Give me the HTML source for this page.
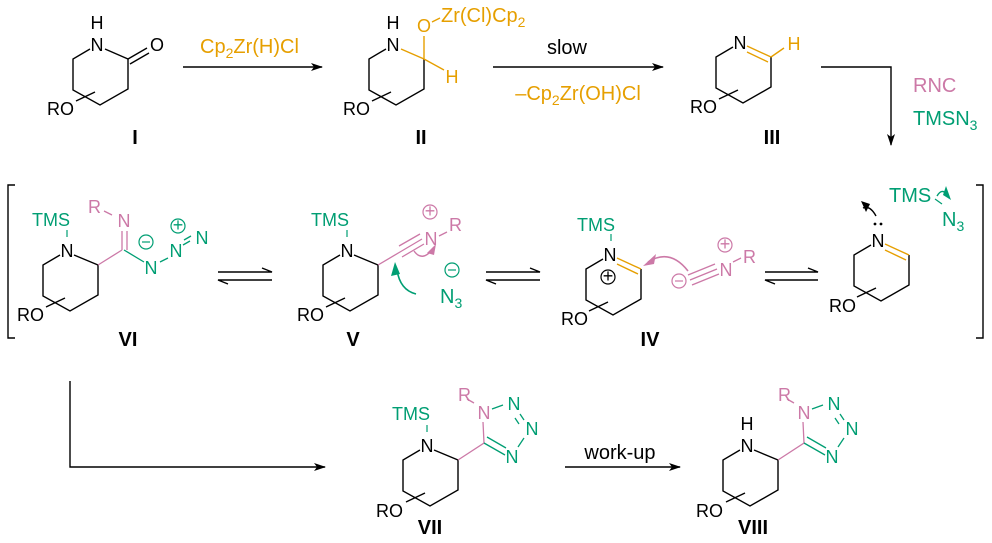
<!DOCTYPE html>
<html><head><meta charset="utf-8"><style>
html,body{margin:0;padding:0;background:#fff}
svg{display:block}
text{font-family:"Liberation Sans",sans-serif;font-size:18px}
.r{font-size:20px}
.b{font-weight:bold;font-size:20px}
.o{fill:#E69F00}.p{fill:#CC79A7}.g{fill:#009E73}
</style></head><body>
<svg width="992" height="543" viewBox="0 0 992 543" xmlns="http://www.w3.org/2000/svg">
<defs>
<g id="ring" fill="none" stroke="#000" stroke-width="1.4">
<path d="M-7,5 L-24,15 L-24,46 L3,61 L31,45 L31,15"/>
<path d="M-21,57 L-2,48"/>
</g>
<marker id="ah" markerWidth="12" markerHeight="8" refX="11" refY="4" orient="auto" markerUnits="userSpaceOnUse"><path d="M0,0 L12,4 L0,8 L3,4z" fill="#000"/></marker>
</defs>
<g stroke="#000" stroke-width="1.4" fill="none">
<line x1="183" y1="67" x2="322" y2="67" marker-end="url(#ah)"/>
<line x1="493" y1="67" x2="663" y2="67" marker-end="url(#ah)"/>
<polyline points="821,67 891,67 891,145" marker-end="url(#ah)"/>
<polyline points="70,381 70,467 325,467" marker-end="url(#ah)"/>
<line x1="565" y1="467" x2="680" y2="467" marker-end="url(#ah)"/>
<polyline points="15,185 8,185 8,338 15,338"/>
<polyline points="976,185 983,185 983,338 976,338"/>
<path d="M218,272 H272 L262,268"/><path d="M272,280 H218 L228,284"/>
<path d="M486,272 H540 L530,268"/><path d="M540,280 H486 L496,284"/>
<path d="M765,272 H818 L808,268"/><path d="M818,280 H765 L775,284"/>
</g>
<!-- I -->
<use href="#ring" x="97" y="44"/>
<g stroke="#000" stroke-width="1.4" fill="none"><path d="M105,49 L128,59"/><path d="M128,59 L147,48 M130,64 L149,53"/></g>
<text x="97" y="51" text-anchor="middle">N</text><text x="97" y="29" text-anchor="middle">H</text>
<text x="150" y="51">O</text><text x="47" y="115">RO</text>
<text x="135" y="144" class="b" text-anchor="middle">I</text>
<text x="200" y="53" class="o r">Cp<tspan font-size="14" dy="5">2</tspan><tspan dy="-5">Zr(H)Cl</tspan></text>
<!-- II -->
<use href="#ring" x="393" y="44"/>
<g stroke="#E69F00" stroke-width="1.4" fill="none"><path d="M401,49 L424,59 L444,70 M424,59 L424,36 M432,22 L440,18"/></g>
<text x="393" y="51" text-anchor="middle">N</text><text x="393" y="29" text-anchor="middle">H</text>
<text x="424" y="32" text-anchor="middle" class="o">O</text>
<text x="441" y="22" class="o r">Zr(Cl)Cp<tspan font-size="14" dy="5">2</tspan></text>
<text x="452" y="83" text-anchor="middle" class="o">H</text>
<text x="343" y="115">RO</text>
<text x="421" y="144" class="b" text-anchor="middle">II</text>
<text x="567" y="54" text-anchor="middle" class="r">slow</text>
<text x="578" y="100" text-anchor="middle" class="o r">–Cp<tspan font-size="14" dy="5">2</tspan><tspan dy="-5">Zr(OH)Cl</tspan></text>
<!-- III -->
<use href="#ring" x="740" y="42"/>
<g stroke="#E69F00" stroke-width="1.4" fill="none"><path d="M747,46 L771,57 M747,52 L768,62 M771,57 L784,48"/></g>
<text x="740" y="49" text-anchor="middle">N</text>
<text x="794" y="50" text-anchor="middle" class="o">H</text>
<text x="690" y="113">RO</text>
<text x="772" y="144" class="b" text-anchor="middle">III</text>
<text x="913" y="92" class="p r">RNC</text>
<text x="913" y="125" class="g r">TMSN<tspan font-size="14" dy="5">3</tspan></text>
<!-- right ring -->
<use href="#ring" x="878" y="240"/>
<g stroke="#E69F00" stroke-width="1.4" fill="none"><path d="M885,244 L909,255 M885,250 L906,260"/></g>
<text x="878" y="247" text-anchor="middle">N</text>
<circle cx="875" cy="224" r="1.4"/><circle cx="881" cy="224" r="1.4"/>
<path d="M876,216 Q870,205 863,208" fill="none" stroke="#000" stroke-width="1.4"/><path d="M861,201 L866,212 L870,204z"/>
<text x="889" y="202" class="g r">TMS</text>
<path d="M935,199 L942,204" stroke="#009E73" stroke-width="1.2"/>
<path d="M937,196 Q943,186 949,198" fill="none" stroke="#009E73" stroke-width="1.4"/><path d="M946,186 L951,200 L943,195z" fill="#009E73"/>
<text x="942" y="226" class="g r">N<tspan font-size="14" dy="5">3</tspan></text>
<text x="829" y="312">RO</text>
<!-- IV -->
<use href="#ring" x="610" y="254"/>
<path d="M611,241 L611,234" stroke="#009E73" stroke-width="1.2"/>
<g stroke="#E69F00" stroke-width="1.4" fill="none"><path d="M617,258 L641,269 M617,264 L638,274"/></g>
<text x="610" y="261" text-anchor="middle">N</text>
<text x="577" y="231" class="g">TMS</text>
<circle cx="608" cy="277" r="7" fill="none" stroke="#000" stroke-width="1.2"/><text x="608" y="282" text-anchor="middle" font-size="14">+</text>
<text x="561" y="325">RO</text>
<text x="650" y="346" class="b" text-anchor="middle">IV</text>
<path d="M688,271 Q670,248 648,262" fill="none" stroke="#CC79A7" stroke-width="1.6"/><path d="M643,266 L656,254 L654,264z" fill="#CC79A7"/>
<circle cx="679" cy="281" r="7" fill="none" stroke="#CC79A7" stroke-width="1.2"/><path d="M675,281 H683" stroke="#CC79A7" stroke-width="1.2"/>
<g stroke="#CC79A7" stroke-width="1.3" fill="none"><path d="M688,275 L715,264 M690,280 L717,269 M692,285 L719,274"/><path d="M733,262 L741,258"/></g>
<text x="726" y="276" text-anchor="middle" class="p">N</text>
<circle cx="725" cy="245" r="7" fill="none" stroke="#CC79A7" stroke-width="1.2"/><text x="725" y="250" text-anchor="middle" font-size="14" class="p">+</text>
<text x="743" y="263" class="p">R</text>
<!-- V -->
<use href="#ring" x="347" y="250"/>
<path d="M347,237 L347,230" stroke="#009E73" stroke-width="1.2"/>
<path d="M354,255 L378,265" stroke="#000" stroke-width="1.4"/>
<text x="347" y="257" text-anchor="middle">N</text>
<text x="311" y="226" class="g">TMS</text>
<g stroke="#CC79A7" stroke-width="1.3" fill="none"><path d="M378,265 L400,252 M400,252 L422,239 M399,246 L420,234 M402,257 L424,244 M439,236 L447,232"/></g>
<text x="431" y="245" text-anchor="middle" class="p">N</text>
<circle cx="430" cy="212" r="7" fill="none" stroke="#CC79A7" stroke-width="1.2"/><text x="430" y="217" text-anchor="middle" font-size="14" class="p">+</text>
<text x="449" y="231" class="p">R</text>
<path d="M414,251 Q422,262 432,250" fill="none" stroke="#CC79A7" stroke-width="1.4"/><path d="M436,244 L427,253 L434,255z" fill="#CC79A7"/>
<path d="M416,294 Q400,290 397,270" fill="none" stroke="#009E73" stroke-width="1.6"/><path d="M395,262 L391,276 L400,274z" fill="#009E73"/>
<circle cx="452" cy="270" r="7" fill="none" stroke="#009E73" stroke-width="1.2"/><path d="M448,270 H456" stroke="#009E73" stroke-width="1.2"/>
<text x="440" y="303" class="g r">N<tspan font-size="14" dy="5">3</tspan></text>
<text x="297" y="321">RO</text>
<text x="353" y="346" class="b" text-anchor="middle">V</text>
<!-- VI -->
<use href="#ring" x="67" y="250"/>
<path d="M67,237 L67,230" stroke="#009E73" stroke-width="1.2"/>
<path d="M74,255 L98,265" stroke="#000" stroke-width="1.4"/>
<text x="67" y="257" text-anchor="middle">N</text>
<text x="32" y="226" class="g">TMS</text>
<g stroke="#CC79A7" stroke-width="1.3" fill="none"><path d="M98,265 L122,250 M122,250 L122,231 M127,250 L127,231 M104,211 L112,215"/></g>
<text x="124" y="227" text-anchor="middle" class="p">N</text>
<text x="88" y="213" class="p">R</text>
<g stroke="#009E73" stroke-width="1.3" fill="none"><path d="M124,250 L144,262 M160,262 L168,258 M183,245 L190,241 M184,240 L191,236"/></g>
<text x="151" y="274" text-anchor="middle" class="g">N</text>
<circle cx="146" cy="242" r="7" fill="none" stroke="#009E73" stroke-width="1.2"/><path d="M142,242 H150" stroke="#009E73" stroke-width="1.2"/>
<text x="176" y="257" text-anchor="middle" class="g">N</text>
<circle cx="178" cy="226" r="7" fill="none" stroke="#009E73" stroke-width="1.2"/><text x="178" y="231" text-anchor="middle" font-size="14" class="g">+</text>
<text x="202" y="244" text-anchor="middle" class="g">N</text>
<text x="17" y="321">RO</text>
<text x="128" y="346" class="b" text-anchor="middle">VI</text>
<!-- VII -->
<use href="#ring" x="427" y="445"/>
<path d="M427,432 L427,425" stroke="#009E73" stroke-width="1.2"/>
<path d="M434,450 L458,460" stroke="#000" stroke-width="1.4"/>
<text x="427" y="452" text-anchor="middle">N</text>
<text x="392" y="420" class="g">TMS</text>
<g id="tz">
<g stroke="#CC79A7" stroke-width="1.3" fill="none"><path d="M458,460 L484,443 L483,422 M467,399 L474,403"/></g>
<g stroke="#009E73" stroke-width="1.3" fill="none"><path d="M484,443 L505,455 M487,437 L506,448 M492,409 L503,405 M520,414 L524,420 M515,418 L519,424 M524,438 L518,447"/></g>
<text x="484" y="419" text-anchor="middle" class="p">N</text>
<text x="458" y="401" class="p">R</text>
<text x="514" y="410" text-anchor="middle" class="g">N</text>
<text x="532" y="435" text-anchor="middle" class="g">N</text>
<text x="512" y="463" text-anchor="middle" class="g">N</text>
</g>
<text x="376" y="517">RO</text>
<text x="430" y="534" class="b" text-anchor="middle">VII</text>
<text x="620" y="459" text-anchor="middle" class="r">work-up</text>
<!-- VIII -->
<use href="#ring" x="747" y="445"/>
<path d="M754,450 L778,460" stroke="#000" stroke-width="1.4"/>
<text x="747" y="452" text-anchor="middle">N</text>
<text x="747" y="430" text-anchor="middle">H</text>
<use href="#tz" x="320" y="0"/>
<text x="696" y="517">RO</text>
<text x="753" y="534" class="b" text-anchor="middle">VIII</text>
</svg>
</body></html>
